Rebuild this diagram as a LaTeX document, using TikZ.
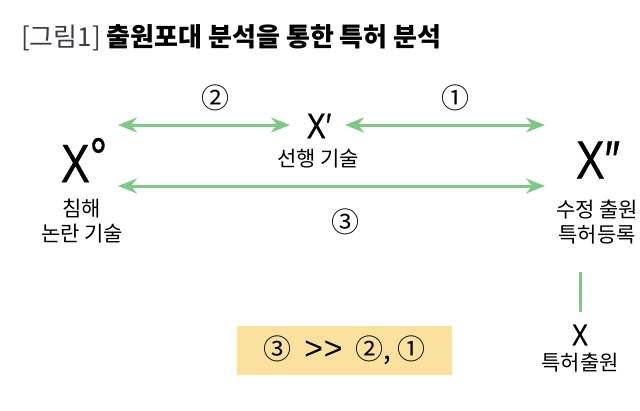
\documentclass[tikz,border=0pt]{standalone}
\usepackage{fontspec}
\setmainfont{Noto Sans CJK KR}
\newfontfamily\latinfont[FakeStretch=0.8,FakeBold=0.6]{Liberation Sans}
\newfontfamily\gtfont{Liberation Sans}
\usetikzlibrary{arrows.meta,positioning}
\definecolor{arrowgreen}{RGB}{128,200,135}
\definecolor{boxyellow}{RGB}{250,226,158}
\definecolor{titlegray}{RGB}{60,60,70}

\begin{document}
\begin{tikzpicture}[
    x=1pt, y=-1pt,
    arrow/.style={{Stealth[length=19pt,width=15pt,inset=6pt]}-{Stealth[length=19pt,width=15pt,inset=6pt]}, line width=3pt, draw=arrowgreen},
    num/.style={font=\fontsize{28}{28}\selectfont, inner sep=0pt},
    kor/.style={font=\fontsize{21}{25}\selectfont, align=center, inner sep=0pt},
    bigx/.style={font=\latinfont\fontsize{54}{54}\selectfont, inner sep=0pt}
]
\useasboundingbox (0,0) rectangle (640,410);

% Title
\node[anchor=base west, inner sep=0pt, font=\fontsize{26}{26}\selectfont] (title) at (21,46)
  {\textcolor{titlegray}{[그림1]} \textbf{출원포대 분석을 통한 특허 분석}};

% Main terms
\node[bigx] (xo) at (84,160) {X\raisebox{0.12em}{°}};
\node[font=\latinfont\fontsize{36}{36}\selectfont, inner sep=0pt] (xp) at (319,126) {X′};
\node[bigx] (xpp) at (598,160) {X″};
\node[font=\latinfont\fontsize{30}{30}\selectfont, inner sep=0pt] (x) at (580,335) {X};

% Labels
\node[kor] (prior) at (318,159) {선행 기술};
\node[kor] (infringe) at (82,221) {침해\\논란 기술};
\node[kor] (amend) at (597,222) {수정 출원\\특허등록};
\node[kor] (apply) at (580,363) {특허출원};

% Arrow ends
\coordinate (a2l) at (118,125);
\coordinate (a2r) at (290,125);
\coordinate (a1l) at (345,125);
\coordinate (a1r) at (545,125);
\coordinate (a3l) at (118,186);
\coordinate (a3r) at (545,186);
\coordinate (vtop) at (580,272);
\coordinate (vbot) at (580,312);

% Arrows
\draw[arrow] (a2l) -- (a2r);
\draw[arrow] (a1l) -- (a1r);
\draw[arrow] (a3l) -- (a3r);
\draw[line width=3pt, arrowgreen] (vtop) -- (vbot);

% Circled numbers
\node[num] (n2) at (215,98) {②};
\node[num] (n1) at (455,98) {①};
\node[num] (n3) at (345,222) {③};

% Comparison box
\node[fill=boxyellow, minimum width=215pt, minimum height=49pt, inner sep=0pt,
      font=\fontsize{28}{28}\selectfont] (cmp) at (344.5,350.5)
  {③\hspace{13pt}{\gtfont\fontsize{32}{32}\selectfont >\kern1pt>}\hspace{13pt}②, ①};

\end{tikzpicture}
\end{document}
